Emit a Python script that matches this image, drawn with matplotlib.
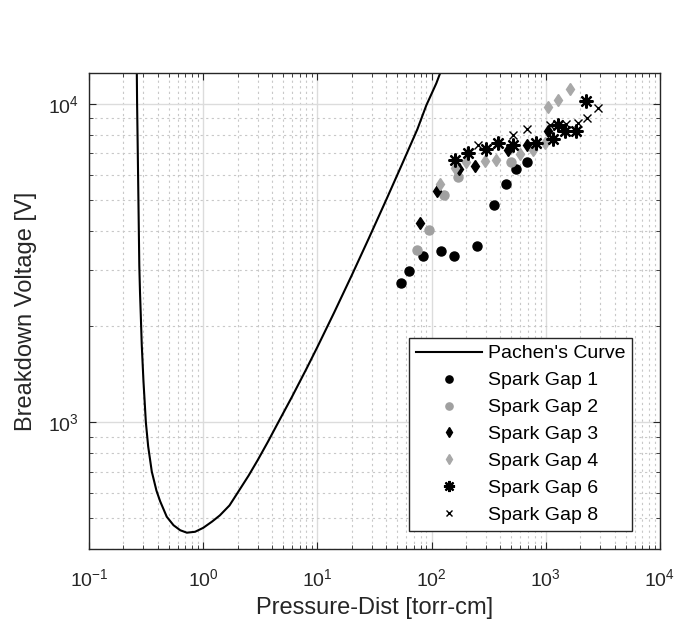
import matplotlib
matplotlib.use('Agg')
import matplotlib.pyplot as plt
import matplotlib.ticker as ticker

plt.rcParams['font.family'] = ['Liberation Sans', 'DejaVu Sans']
plt.rcParams['mathtext.default'] = 'regular'
plt.rcParams['axes.unicode_minus'] = False

# Pachen's curve (pd in torr-cm, V)
curve_pd = [0.2615, 0.2625, 0.264, 0.267, 0.271, 0.276, 0.280, 0.284, 0.290, 0.300,
            0.315, 0.330, 0.355, 0.390, 0.420, 0.480, 0.550, 0.630, 0.720, 0.850,
            1.0, 1.2, 1.4, 1.7, 2.0, 2.5, 3.0, 3.7, 4.55, 6.0,
            8.0, 10.0, 14.0, 20.0, 28.0, 40.0, 55.0, 75.0, 90.0, 110.0,
            120.0, 135.0]
curve_v = [14000, 12500, 10000, 7500, 5050, 3100, 2550, 2200, 1750, 1350,
           1000, 840, 700, 610, 565, 505, 475, 458, 450, 453,
           466, 488, 510, 548, 600, 680, 760, 870, 1000, 1203,
           1469, 1723, 2208, 2894, 3760, 4989, 6451, 8313, 9900, 11600,
           12600, 14000]

sg1_pd = [54, 63, 84, 121, 158, 248, 353, 450, 547, 678]
sg1_v = [2740, 2990, 3320, 3450, 3320, 3590, 4800, 5590, 6260, 6550]

sg2_pd = [75, 95, 128, 171, 501]
sg2_v = [3480, 4020, 5170, 5900, 6570]

sg3_pd = [79, 112, 174, 239, 468, 678, 1048]
sg3_v = [4220, 5330, 6230, 6370, 7180, 7410, 8220]

sg4_pd = [118, 160, 202, 293, 367, 592, 774, 980, 1048, 1291, 1622]
sg4_v = [5620, 6280, 6570, 6630, 6680, 6980, 7180, 7540, 9760, 10310, 11120]

sg6_pd = [160, 207, 300, 383, 518, 829, 1151, 1291, 1466, 1857, 2254]
sg6_v = [6650, 7010, 7200, 7520, 7440, 7520, 7780, 8590, 8240, 8240, 10220]

sg8_pd = [256, 513, 678, 1084, 1518, 1913, 2298, 2868]
sg8_v = [7410, 7960, 8350, 8600, 8660, 8710, 9020, 9740]

fig = plt.figure(figsize=(6.79, 6.3), dpi=100)
ax = fig.add_axes([0.131, 0.1286, 0.841, 0.7555])

ax.plot(curve_pd, curve_v, color='black', lw=1.5, label="Pachen's Curve")
ax.plot(sg1_pd, sg1_v, 'o', color='black', ms=6.5, label='Spark Gap 1')
ax.plot(sg2_pd, sg2_v, 'o', color='#a0a0a0', ms=6.5, label='Spark Gap 2')
ax.plot(sg3_pd, sg3_v, 'd', color='black', ms=6.5, label='Spark Gap 3')
ax.plot(sg4_pd, sg4_v, 'd', color='#a8a8a8', ms=6.5, label='Spark Gap 4')
ax.plot(sg6_pd, sg6_v, ls='none', marker=(8, 2, 0), color='black', ms=10, mew=1.6,
        label='Spark Gap 6')
ax.plot(sg8_pd, sg8_v, 'x', color='black', ms=6, mew=1.0, label='Spark Gap 8')

ax.set_xscale('log')
ax.set_yscale('log')
ax.set_xlim(0.1, 1e4)
ax.set_ylim(400, 12500)

ax.xaxis.set_major_locator(ticker.LogLocator(base=10, numticks=10))
ax.yaxis.set_major_locator(ticker.FixedLocator([1e3, 1e4]))
ax.xaxis.set_minor_locator(ticker.LogLocator(base=10, subs=range(2, 10), numticks=20))
ax.yaxis.set_minor_locator(ticker.LogLocator(base=10, subs=range(2, 10), numticks=20))
ax.yaxis.set_minor_formatter(ticker.NullFormatter())

ax.tick_params(which='both', direction='in', top=True, right=True, colors='#262626',
               labelsize=14)
ax.tick_params(which='major', length=5)
ax.tick_params(which='minor', length=3)
ax.tick_params(axis='x', pad=14)
ax.tick_params(axis='y', pad=7)
for s in ax.spines.values():
    s.set_color('#262626')
    s.set_linewidth(1.0)

ax.grid(which='major', color='#dcdcdc', lw=1.0, ls='-')
ax.grid(which='minor', color='#c8c8c8', lw=0.8, ls=(0, (2, 3)))
ax.set_axisbelow(True)

ax.set_xlabel('Pressure-Dist [torr-cm]', fontsize=17, color='#262626', labelpad=5)
ax.set_ylabel('Breakdown Voltage [V]', fontsize=17, color='#262626', labelpad=8)

leg = ax.legend(loc='lower right', bbox_to_anchor=(0.951, 0.038), fontsize=14,
                numpoints=1, handlelength=3.4, handletextpad=0.3, labelspacing=0.48,
                borderpad=0.35, borderaxespad=0, markerscale=0.8,
                fancybox=False, framealpha=1, edgecolor='#262626')
leg.get_frame().set_linewidth(1.0)

plt.savefig('out.png', dpi=100)
